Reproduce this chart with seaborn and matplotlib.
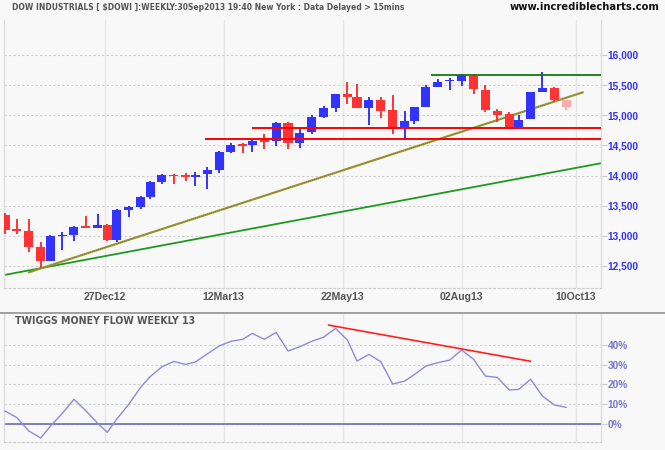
import os
import numpy as np
import pandas as pd
import matplotlib
matplotlib.use("Agg")
import matplotlib.pyplot as plt
from matplotlib.lines import Line2D
from matplotlib import font_manager
import seaborn as sns

# ---------------- data ----------------
week_start = pd.date_range("2012-10-22", periods=50, freq="7D")
opens = [13345, 13110, 13080, 12815, 12588, 12997, 13019, 13150, 13135, 13180,
         12936, 13434, 13483, 13649, 13898, 14010, 13993, 13982, 14021, 14097,
         14396, 14514, 14512, 14580, 14578, 14872, 14545, 14728, 14976, 15126,
         15353, 15303, 15126, 15258, 15088, 14784, 14910, 15142, 15474, 15570,
         15574, 15652, 15419, 15071, 15021, 14811, 14933, 15391, 15453, 15254]
highs = [13374, 13279, 13279, 12903, 13010, 13063, 13160, 13329, 13362, 13190,
         13445, 13495, 13660, 13910, 14021, 14020, 14047, 14054, 14142, 14407,
         14535, 14535, 14606, 14689, 14893, 14880, 14777, 15005, 15154, 15360,
         15552, 15514, 15303, 15303, 15336, 15071, 15137, 15502, 15602, 15613,
         15680, 15680, 15502, 15109, 15054, 15005, 15386, 15723, 15469, 15254]
lows = [13035, 13035, 12737, 12471, 12588, 12765, 12919, 13125, 13125, 12919,
        12903, 13307, 13450, 13611, 13860, 13855, 13910, 13832, 13782, 14037,
        14379, 14379, 14396, 14440, 14490, 14440, 14462, 14689, 14950, 15054,
        15192, 15115, 14839, 14960, 14689, 14590, 14855, 15142, 15464, 15414,
        15491, 15358, 15059, 14893, 14767, 14784, 14933, 15391, 15225, 15093]
closes = [13102, 13094, 12820, 12588, 13000, 13013, 13150, 13140, 13175, 12936,
          13428, 13478, 13644, 13898, 14004, 13993, 13982, 14000, 14092, 14391,
          14507, 14505, 14573, 14565, 14877, 14545, 14706, 14971, 15121, 15353,
          15308, 15126, 15258, 15076, 14811, 14905, 15137, 15469, 15552, 15580,
          15663, 15441, 15093, 15005, 14811, 14922, 15386, 15453, 15258, 15142]
partial_week = [False] * 49 + [True]

tmf = [6.6, 3.2, -3.5, -7.1, -1.2, 5.2, 12.5, 6.7, 0.3, -4.2,
       2.5, 9.9, 18.5, 23.9, 28.9, 31.6, 30.1, 31.3, 35.4, 39.4,
       41.8, 42.8, 45.8, 42.8, 46.3, 36.9, 39.1, 41.8, 43.9, 48.3,
       42.4, 31.8, 35.2, 31.5, 20.2, 21.7, 24.9, 29.3, 31.0, 32.3,
       37.4, 32.7, 24.2, 23.6, 17.2, 17.5, 22.6, 14.1, 9.6, 8.4]

holidays = ["2012-11-22", "2012-12-25", "2013-01-01", "2013-01-21", "2013-02-18",
            "2013-03-29", "2013-05-27", "2013-07-04", "2013-09-02"]

tick_dates = ["2012-12-27", "2013-03-12", "2013-05-22", "2013-08-02", "2013-10-10"]
tick_labels = ["27Dec12", "12Mar13", "22May13", "02Aug13", "10Oct13"]
price_ticks = [12500, 13000, 13500, 14000, 14500, 15000, 15500, 16000]
tmf_ticks = [0, 10, 20, 30, 40]

# trend lines (date, value)
green_trend = (["2012-10-26", "2013-10-04"], [12353, 14097])
olive_trend = (["2012-11-09", "2013-10-15"], [12395, 15381])
red_levels = (["2013-02-28", "2013-03-28"], [14600, 14790])
green_level = ("2013-07-16", 15668)
tmf_trend = (["2013-05-14", "2013-09-13"], [50.0, 31.7])

# ---------------- positions (trading-day axis) ----------------
hol = np.array(holidays, dtype="datetime64[D]")
fridays = (week_start + pd.Timedelta(days=4)).values.astype("datetime64[D]")
bar_days = np.busday_offset(fridays, 0, roll="backward", holidays=hol)
origin = bar_days[0]


def tpos(d):
    d = np.array(d, dtype="datetime64[D]")
    return np.busday_count(origin, d, holidays=hol)


xs = tpos(bar_days)
x_left, x_right = -0.42, 250.6

# ---------------- style ----------------
sns.set_theme(style="white")
plt.rcParams["font.family"] = ["Liberation Sans", "DejaVu Sans"]


def find_condensed():
    cands = [("Liberation Sans Narrow", "normal"), ("DejaVu Sans", "condensed"),
             ("Roboto Condensed", "normal"), ("Roboto", "condensed"),
             ("Open Sans", "condensed"), ("Noto Sans", "condensed"),
             ("Open Sans Condensed", "normal"), ("Noto Sans Condensed", "normal")]
    for fam, st in cands:
        try:
            path = font_manager.findfont(
                font_manager.FontProperties(family=fam, stretch=st, weight="bold"),
                fallback_to_default=False)
        except Exception:
            continue
        name = os.path.basename(path).lower()
        if "condensed" in name or "narrow" in name:
            return fam, st
    return "Liberation Sans", "normal"


cond_family, cond_stretch = find_condensed()
cond_kw = dict(family=[cond_family, "DejaVu Sans"], fontstretch=cond_stretch,
               fontweight="bold")

BG = "#f8f8f8"
fig = plt.figure(figsize=(6.65, 4.5), dpi=100, facecolor=BG)
W, H = 665, 450
ax1 = fig.add_axes([4 / W, (H - 288) / H, 597 / W, 268 / H], facecolor=BG)
ax2 = fig.add_axes([4 / W, (H - 442) / H, 597 / W, 128 / H], facecolor=BG)

# ---------------- candles ----------------
BLUE, RED, PINK = "#3333ff", "#ff3333", "#ffaaaa"
body_w = 3.8
min_body = 28
for x, o, h, l, c, p in zip(xs, opens, highs, lows, closes, partial_week):
    col = PINK if p else (BLUE if c >= o else RED)
    ax1.vlines(x, l, h, color=col, lw=1.4, zorder=3)
    lo, hi = min(o, c), max(o, c)
    if hi - lo < min_body:
        mid = (hi + lo) / 2
        lo, hi = mid - min_body / 2, mid + min_body / 2
    ax1.bar(x, hi - lo, bottom=lo, width=body_w, color=col, lw=0, zorder=3)

# trend lines
gx = tpos(green_trend[0])
ax1.axline((gx[0], green_trend[1][0]), (gx[1], green_trend[1][1]),
           color="#1e9a1e", lw=1.3, zorder=2)
ox = tpos(olive_trend[0])
ax1.plot(ox, olive_trend[1], color="#9c9c3c", lw=1.6, zorder=2)
ax1.plot(ox, olive_trend[1], color="#6e6e20", lw=0.6, ls=(0, (1, 1.5)), zorder=2)
for d, v in zip(*red_levels):
    ax1.hlines(v, tpos(d), x_right, color="#ff0000", lw=1.4, zorder=4)
ax1.hlines(green_level[1], tpos(green_level[0]), x_right, color="#127a12", lw=1.3, zorder=4)

ax1.set_xlim(x_left, x_right)
ax1.set_ylim(12135, 16580)

tick_x = tpos(tick_dates)
for ax in (ax1, ax2):
    ax.set_xticks(tick_x)
    ax.grid(axis="x", color="#e6e6e6", lw=1.0, ls="-", zorder=0)
    ax.grid(axis="y", color="#cfcfcf", lw=0.8, ls=(0, (2, 2)), zorder=0)
    ax.set_axisbelow(True)
    ax.spines["top"].set_visible(False)
    ax.spines["left"].set_color("#dddddd")
    ax.spines["right"].set_color("#dddddd")
    ax.spines["bottom"].set_color("#cfcfcf")
    ax.spines["bottom"].set_linestyle((0, (2, 2)))
    ax.spines["bottom"].set_linewidth(0.8)
    ax.spines["left"].set_linewidth(1.0)
    ax.spines["right"].set_linewidth(1.0)
    ax.yaxis.tick_right()

ax1.set_xticklabels(tick_labels)
ax1.tick_params(axis="x", length=0, pad=3.2, labelsize=7.6, labelcolor="#555555")
for t in ax1.get_xticklabels():
    t.set_fontweight("bold")
ax1.set_yticks(price_ticks)
ax1.set_yticklabels([f"{v:,}" for v in price_ticks])
ax1.tick_params(axis="y", length=4.3, width=0.8, color="#cfcfcf", pad=0.6,
                labelsize=7.3, labelcolor="#3333ff")
for t in ax1.get_yticklabels():
    t.set_fontweight("bold")

# ---------------- money flow ----------------
sns.lineplot(x=xs, y=tmf, ax=ax2, color="#8c8cd2", lw=1.0, zorder=3)
ax2.axhline(0, color="#6b6bc0", lw=1.2, zorder=2)
tx = tpos(tmf_trend[0])
ax2.plot(tx, tmf_trend[1], color="#ff2020", lw=1.2, zorder=4)
ax2.set_xlim(x_left, x_right)
ax2.set_ylim(-9.1, 55.6)
ax2.set_xticklabels([])
ax2.tick_params(axis="x", length=0)
ax2.set_yticks(tmf_ticks)
ax2.set_yticklabels([f"{v}%" for v in tmf_ticks])
ax2.tick_params(axis="y", length=4.3, width=0.8, color="#cfcfcf", pad=0.6,
                labelsize=7.3, labelcolor="#7777cc")
for t in ax2.get_yticklabels():
    t.set_fontweight("bold")
ax2.set_xlabel("")
ax2.set_ylabel("")

# separator
fig.add_artist(Line2D([0, 1], [(H - 313) / H] * 2, transform=fig.transFigure,
                      color="#999999", lw=1.3))

# ---------------- texts ----------------
title = fig.text(12 / W, 1 - 7.5 / H,
                 "DOW INDUSTRIALS [ $DOWI ]:WEEKLY:30Sep2013 19:40 New York : Data Delayed > 15mins",
                 color="#555555", fontsize=8, ha="left", va="center", **cond_kw)
site = fig.text(510 / W, 1 - 7.5 / H, "www.incrediblecharts.com",
                color="#111111", fontsize=8, ha="left", va="center", **cond_kw)
panel = fig.text(15 / W, 1 - 321 / H, "TWIGGS MONEY FLOW WEEKLY 13",
                 color="#555555", fontsize=8, ha="left", va="center", **cond_kw)

fig.canvas.draw()
renderer = fig.canvas.get_renderer()
for txt, target in ((title, 392), (site, 150), (panel, 180)):
    w = txt.get_window_extent(renderer).width
    txt.set_fontsize(txt.get_fontsize() * target / w)

fig.savefig("out.png", dpi=100, facecolor=BG)
